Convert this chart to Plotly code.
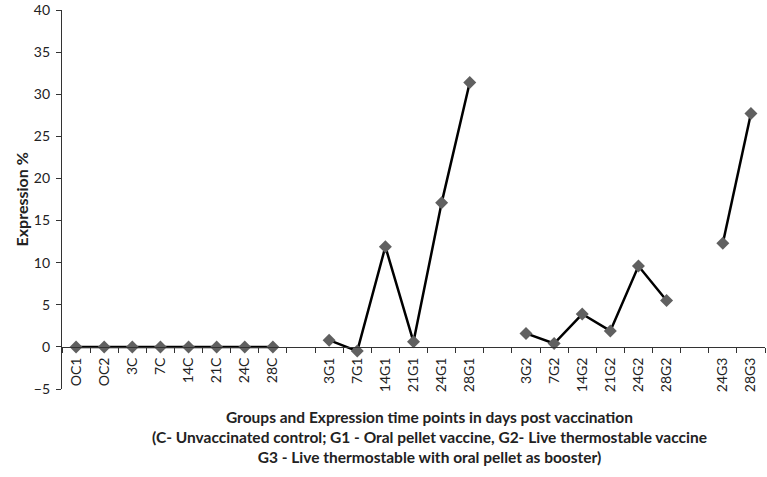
import plotly.graph_objects as go

# Categories (blank entries are the gaps between groups)
categories = ["OC1", "OC2", "3C", "7C", "14C", "21C", "24C", "28C", " ",
              "3G1", "7G1", "14G1", "21G1", "24G1", "28G1", "  ",
              "3G2", "7G2", "14G2", "21G2", "24G2", "28G2", "   ",
              "24G3", "28G3"]

# Expression % values (None = gap)
control = [0, 0, 0, 0, 0, 0, 0, 0]
g1 = [0.8, -0.5, 11.9, 0.6, 17.1, 31.4]
g2 = [1.6, 0.4, 3.9, 1.9, 9.6, 5.5]
g3 = [12.3, 27.7]
values = control + [None] + g1 + [None] + g2 + [None] + g3

y_min, y_max = -5, 40

fig = go.Figure()
fig.add_trace(go.Scatter(
    x=categories, y=values, mode="lines+markers", connectgaps=False,
    line=dict(color="black", width=2.5),
    marker=dict(symbol="diamond", size=10, color="#606060"),
    showlegend=False, cliponaxis=False,
))

font = "Lato, 'Open Sans', sans-serif"
fig.update_layout(
    width=767, height=477,
    margin=dict(l=62, r=2, t=10, b=88),
    plot_bgcolor="white", paper_bgcolor="white",
    font=dict(family=font, size=14, color="#222"),
    xaxis=dict(
        type="category", categoryorder="array", categoryarray=categories,
        range=[-0.5, len(categories) - 0.5], automargin=False,
        anchor="free", position=(0 - y_min) / (y_max - y_min),
        showline=True, linecolor="#333", linewidth=1.2,
        ticks="outside", tickson="boundaries", ticklen=5, tickcolor="#333",
        tickangle=-90, tickfont=dict(size=14), showgrid=False,
        ticklabelstandoff=4,
    ),
    yaxis=dict(
        range=[y_min, y_max], dtick=5, showgrid=False, zeroline=False,
        showline=True, linecolor="#333", linewidth=1.2, automargin=False,
        ticks="outside", ticklen=5, tickcolor="#333", tickfont=dict(size=14),
        ticklabelstandoff=3,
    ),
    annotations=[
        dict(
            text="<b>Groups and Expression time points in days post vaccination<br>"
                 "(C- Unvaccinated control; G1 - Oral pellet vaccine, G2- Live thermostable vaccine<br>"
                 "G3 - Live thermostable with oral pellet as booster)</b>",
            xref="paper", yref="paper", x=0.523, y=-0.045, yanchor="top",
            showarrow=False, font=dict(size=15.5), align="center",
        ),
        dict(
            text="<b>Expression %</b>", textangle=-90,
            xref="paper", yref="paper", x=-0.057, y=0.5,
            xanchor="center", yanchor="middle",
            showarrow=False, font=dict(size=16),
        ),
    ],
)

# drop the default page margin so the figure sits at the window's corner
fig.write_html("out.html", config={"displayModeBar": False},
               post_script="document.body.style.margin = '0';")
